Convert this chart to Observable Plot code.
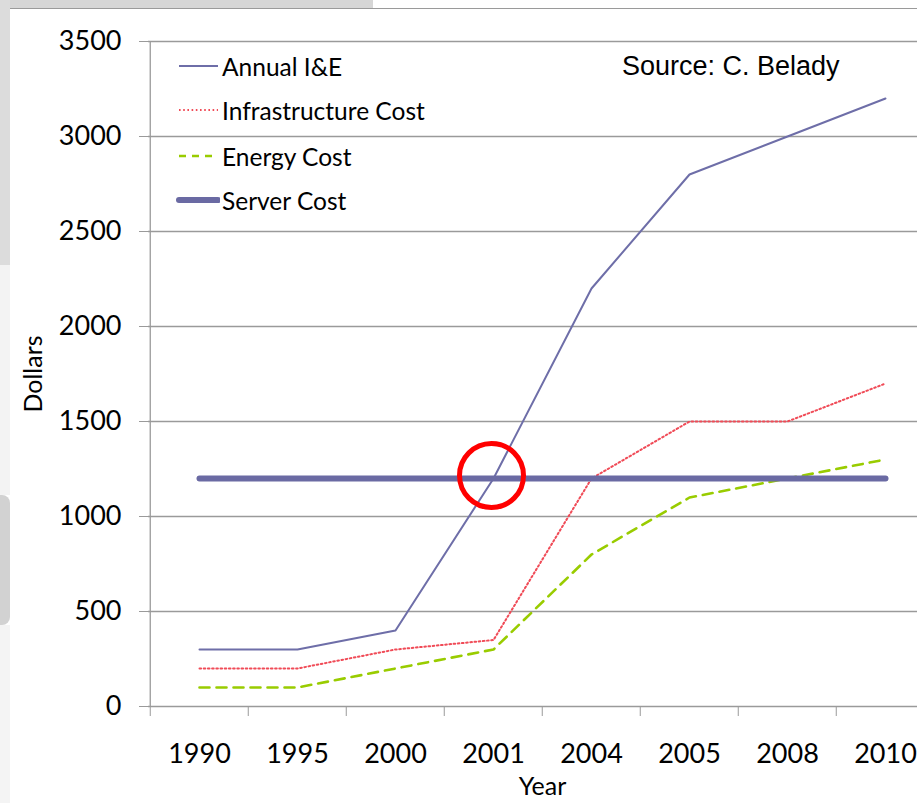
<!DOCTYPE html>
<html><head><meta charset="utf-8">
<script src="https://cdn.jsdelivr.net/npm/d3@7"></script>
<script src="https://cdn.jsdelivr.net/npm/@observablehq/plot@0.6"></script>
<style>
html,body{margin:0;padding:0;background:#fff;overflow:hidden;}
#wrap{position:relative;width:917px;height:803px;}
#chart svg{display:block;}
.deco{position:absolute;}
#legend{position:absolute;left:0;top:0;font-family:Lato,sans-serif;font-size:24.5px;color:#000;}
#legend .row{position:absolute;left:176px;height:30px;display:flex;align-items:center;white-space:nowrap;}
#legend .row svg{width:44px;height:10px;margin-right:2px;}
#source{position:absolute;left:622px;top:51px;font-family:"Liberation Sans",Arial,sans-serif;font-size:27px;color:#000;white-space:nowrap;}
</style></head><body>
<div id="wrap">
  <div id="chart"></div>
  <div id="legend"></div>
  <div id="source">Source: C. Belady</div>
  <div class="deco" style="left:0;top:0;width:373px;height:8px;background:#d6d6d6"></div>
  <div class="deco" style="left:10px;top:8px;width:907px;height:1px;background:#9a9a9a"></div>
  <div class="deco" style="left:0;top:0;width:10px;height:265px;background:#dcdcdc"></div>
  <div class="deco" style="left:0;top:265px;width:10px;height:230px;background:#f3f3f3"></div>
  <div class="deco" style="left:0;top:495px;width:10px;height:130px;background:#d2d2d2;border-radius:0 8px 8px 0"></div>
  <div class="deco" style="left:0;top:625px;width:10px;height:178px;background:#f4f4f4"></div>
</div>
<script>
const years = ["1990","1995","2000","2001","2004","2005","2008","2010"];
const annualIE = [300,300,400,1200,2200,2800,3000,3200];
const infrastructureCost = [200,200,300,350,1200,1500,1500,1700];
const energyCost = [100,100,200,300,800,1100,1200,1300];
const serverCost = [1200,1200,1200,1200,1200,1200,1200,1200];
const yTicks = [0,500,1000,1500,2000,2500,3000,3500];
const seriesNames = ["Annual I&E","Infrastructure Cost","Energy Cost","Server Cost"];
const highlightYear = ["2001"];
const highlightValue = [1200];
const yLabel = "Dollars";
const xLabel = "Year";

const colors = {ie:"#6e6ea8", infra:"#f04b57", energy:"#99cc00", server:"#6a6aa3"};

const W = 917, H = 803, mL = 148, mR = -19, mT = 41, mB = 97;
const bw = (W - mR - mL) / years.length;
const rows = s => years.map((y, i) => ({year: y, value: s[i]}));
const hl = highlightYear.map((y, i) => ({year: y, value: highlightValue[i]}));

const chart = Plot.plot({
  width: W, height: H,
  marginLeft: mL, marginRight: mR, marginTop: mT, marginBottom: mB,
  style: {fontFamily: "Lato, sans-serif", fontSize: "27px", color: "#000", background: "transparent", overflow: "hidden"},
  x: {type: "band", domain: years, padding: 0, label: null},
  y: {domain: [0, 3500], label: null},
  marks: [
    Plot.ruleY(yTicks, {stroke: "#9a9a9a", strokeWidth: 1.3}),
    Plot.ruleX([years[0]], {dx: -bw / 2, stroke: "#9a9a9a", strokeWidth: 1.3}),
    Plot.axisY(yTicks, {tickSize: 9, tickPadding: 18, stroke: "#9a9a9a", fill: "#000", fontSize: 27, tickFormat: d => String(d), label: null}),
    Plot.axisX(years, {tickSize: 10, text: null, dx: -bw / 2, stroke: "#9a9a9a", label: null}),
    Plot.axisX(years, {tickSize: 0, tickPadding: 37, fill: "#000", fontSize: 27, label: null}),
    Plot.text([yLabel], {frameAnchor: "left", text: d => d, rotate: -90, dx: -115, textAnchor: "middle", lineAnchor: "middle", fontSize: 25, fill: "#000"}),
    Plot.text([xLabel], {frameAnchor: "bottom", text: d => d, dy: 80, textAnchor: "middle", lineAnchor: "middle", fontSize: 25, fill: "#000"}),
    Plot.line(rows(energyCost), {x: "year", y: "value", stroke: colors.energy, strokeWidth: 2.6, strokeDasharray: "10 7"}),
    Plot.line(rows(infrastructureCost), {x: "year", y: "value", stroke: colors.infra, strokeWidth: 2, strokeDasharray: "1.6 2.6"}),
    Plot.line(rows(annualIE), {x: "year", y: "value", stroke: colors.ie, strokeWidth: 2}),
    Plot.line(rows(serverCost), {x: "year", y: "value", stroke: colors.server, strokeWidth: 6, strokeLinecap: "round"}),
    Plot.dot(hl, {x: "year", y: "value", r: 32, dx: -2, dy: -3, stroke: "#ff0000", strokeWidth: 5, fill: "none"})
  ]
});
document.getElementById("chart").appendChild(chart);

// legend (inside plot area, upper left)
const legendStyles = [
  {stroke: colors.ie, width: 2, dash: null, top: 51},
  {stroke: colors.infra, width: 2, dash: "1.6 2.6", top: 95},
  {stroke: colors.energy, width: 2.6, dash: "7 6", top: 141},
  {stroke: colors.server, width: 6, dash: null, top: 185, cap: "round"}
];
const legend = document.getElementById("legend");
seriesNames.forEach((name, i) => {
  const st = legendStyles[i];
  const row = document.createElement("div");
  row.className = "row";
  row.style.top = st.top + "px";
  row.innerHTML = `<svg viewBox="0 0 44 10"><line x1="3" x2="42" y1="5" y2="5" stroke="${st.stroke}" stroke-width="${st.width}" ${st.dash ? `stroke-dasharray="${st.dash}"` : ""} stroke-linecap="${st.cap || "butt"}"/></svg><span></span>`;
  row.querySelector("span").textContent = name;
  legend.appendChild(row);
});
</script>
</body></html>
